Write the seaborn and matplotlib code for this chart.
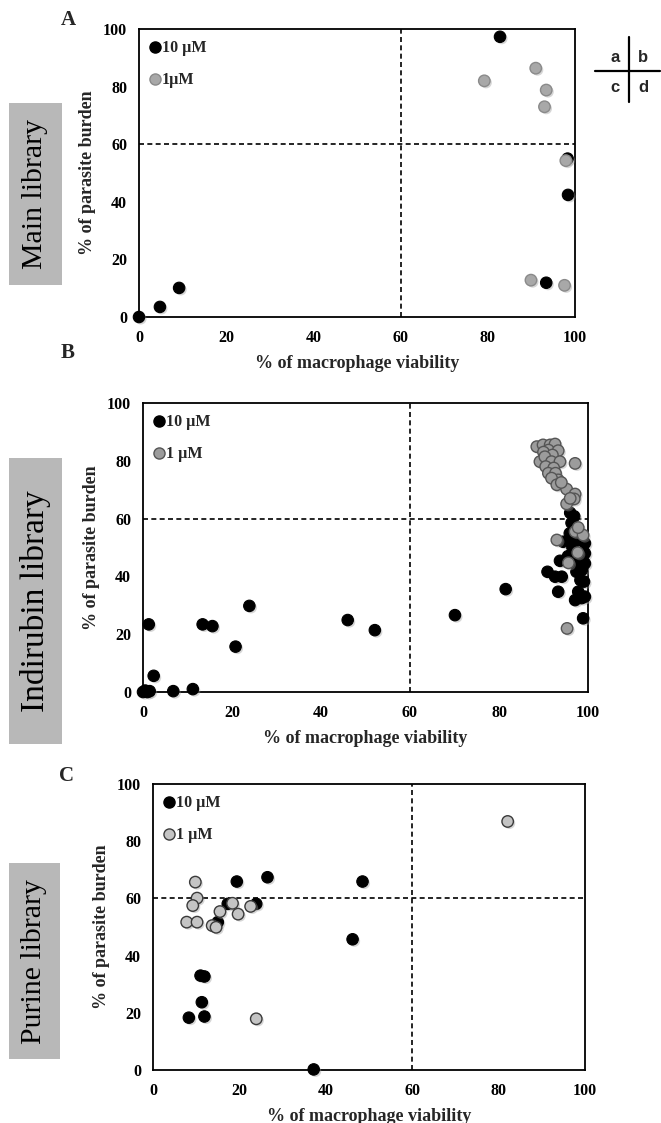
import matplotlib
matplotlib.use("Agg")
import matplotlib.pyplot as plt
import seaborn as sns
import pandas as pd
from matplotlib.patches import Rectangle
from matplotlib.lines import Line2D
import matplotlib.patheffects as pe

# ---------------- data ----------------
# Panel A : Main library
a_10uM_x = [0.0, 4.8, 9.2, 82.8, 98.3, 98.4, 93.4]
a_10uM_y = [0.0, 3.5, 10.1, 97.3, 55.0, 42.4, 11.9]
a_1uM_x = [79.2, 91.0, 93.4, 93.0, 97.9, 89.9, 97.6]
a_1uM_y = [82.0, 86.4, 78.8, 73.0, 54.3, 12.8, 11.0]

# Panel B : Indirubin library
b_10uM_x = [0.0, 0.5, 1.0, 1.5, 1.3, 2.4, 6.8, 11.2, 13.4, 15.6, 20.8, 23.9,
            46.0, 52.1, 70.1, 81.5,
            96.0, 96.9, 96.3, 97.4, 95.9, 96.3, 94.4, 97.8, 99.3, 96.8, 99.3,
            93.7, 97.8, 99.3, 98.6, 90.9, 97.4, 92.6, 94.1, 98.3, 99.1, 93.3,
            97.8, 97.1, 98.6, 99.3, 98.9, 96.5, 95.5]
b_10uM_y = [0.0, 0.5, 0.0, 0.3, 23.4, 5.6, 0.3, 1.0, 23.4, 22.8, 15.7, 29.8,
            24.9, 21.4, 26.6, 35.6,
            62.0, 60.8, 58.5, 56.0, 54.9, 52.0, 52.0, 52.6, 51.5, 48.0, 48.0,
            45.4, 44.5, 44.5, 42.2, 41.6, 41.6, 39.9, 39.9, 38.7, 38.2, 34.7,
            34.7, 31.8, 32.5, 33.0, 25.5, 50.0, 47.0]
b_1uM_x = [88.5, 89.9, 91.5, 92.6, 91.1, 93.3, 90.0, 92.0, 89.2, 90.3, 91.8,
           93.7, 97.1, 90.5, 92.3, 91.1, 92.7, 93.3, 91.8, 93.0, 95.2, 97.1,
           96.9, 95.2, 96.0, 94.0,
           93.0, 97.1, 98.9, 97.7, 95.6, 97.8, 95.3]
b_1uM_y = [84.9, 85.5, 85.5, 85.8, 83.7, 83.5, 83.0, 82.0, 79.7, 81.4, 79.7,
           79.7, 79.1, 78.0, 77.5, 75.7, 75.7, 73.4, 74.0, 71.7, 70.2, 68.5,
           66.8, 65.1, 67.0, 72.5,
           52.6, 55.5, 54.3, 48.2, 44.7, 56.9, 22.0]

# Panel C : Purine library
c_10uM_x = [8.3, 11.9, 11.3, 11.0, 11.9, 19.4, 26.5, 48.5, 46.2, 37.2, 17.3, 23.9, 15.0]
c_10uM_y = [18.3, 18.7, 23.7, 33.0, 32.7, 65.9, 67.4, 65.9, 45.7, 0.2, 58.1, 58.1, 51.7]
c_1uM_x = [9.8, 10.2, 9.2, 7.8, 10.2, 13.7, 14.6, 15.5, 18.4, 19.7, 22.6, 23.9, 82.1]
c_1uM_y = [65.7, 60.1, 57.5, 51.7, 51.7, 50.5, 49.9, 55.4, 58.3, 54.5, 57.2, 17.9, 86.9]

ticks = [0, 20, 40, 60, 80, 100]
threshold = 60
panel_letters = ["A", "B", "C"]
library_names = ["Main library", "Indirubin library", "Purine library"]
legend_labels = [["10 µM", "1µM"], ["10 µM", "1 µM"], ["10 µM", "1 µM"]]
xlabel = "% of macrophage viability"
ylabel = "% of parasite burden"

# ---------------- style ----------------
sns.set_theme(style="white")
plt.rcParams["font.family"] = ["Liberation Serif", "DejaVu Serif"]
plt.rcParams["font.weight"] = "bold"
plt.rcParams["axes.labelweight"] = "bold"

W, H = 661, 1123
fig = plt.figure(figsize=(W / 100, H / 100), dpi=100)


def ax_at(l, t, r, b):
    return fig.add_axes([l / W, 1 - b / H, (r - l) / W, (b - t) / H])


panels = [
    dict(box=(139, 29, 575, 317), lab=(9, 103, 62, 285), letter=(68, 20),
         d10=(a_10uM_x, a_10uM_y), d1=(a_1uM_x, a_1uM_y), lab_size=21.5,
         gray_face="#a8a8a8", gray_edge="#8a8a8a"),
    dict(box=(143, 403, 588, 692), lab=(9, 458, 62, 744), letter=(68, 353),
         d10=(b_10uM_x, b_10uM_y), d1=(b_1uM_x, b_1uM_y), lab_size=24,
         gray_face="#9c9c9c", gray_edge="#555555"),
    dict(box=(153, 784, 585, 1070), lab=(9, 863, 60, 1059), letter=(67, 776),
         d10=(c_10uM_x, c_10uM_y), d1=(c_1uM_x, c_1uM_y), lab_size=21.5,
         gray_face="#c4c4c4", gray_edge="#3a3a3a"),
]

shadow = [pe.SimplePatchShadow(offset=(1.3, -1.3), shadow_rgbFace="#999999", alpha=0.4), pe.Normal()]

for i, p in enumerate(panels):
    ax = ax_at(*p["box"])
    df10 = pd.DataFrame({"x": p["d10"][0], "y": p["d10"][1]})
    df1 = pd.DataFrame({"x": p["d1"][0], "y": p["d1"][1]})
    sns.scatterplot(data=df10, x="x", y="y", ax=ax, color="black",
                    edgecolor="black", s=68, linewidth=0.8, zorder=3,
                    clip_on=False, legend=False)
    sns.scatterplot(data=df1, x="x", y="y", ax=ax, color=p["gray_face"],
                    edgecolor=p["gray_edge"], s=68, linewidth=1.0, zorder=4,
                    clip_on=False, legend=False)
    for coll in ax.collections:
        coll.set_path_effects(shadow)

    ax.axvline(threshold, color="black", lw=1.2, ls=(0, (3, 2)), zorder=2)
    ax.axhline(threshold, color="black", lw=1.2, ls=(0, (3, 2)), zorder=2)

    ax.set_xlim(0, 100)
    ax.set_ylim(0, 100)
    ax.set_xticks(ticks)
    ax.set_yticks(ticks)
    ax.grid(False)
    for sp in ax.spines.values():
        sp.set_visible(True)
        sp.set_color("black")
        sp.set_linewidth(1.3)
    ax.tick_params(axis="both", direction="out", length=3.5, width=1.2,
                   colors="black", labelsize=11.5)
    ax.tick_params(axis="y", pad=5)
    ax.tick_params(axis="x", pad=6)
    ax.set_xlabel(xlabel, fontsize=13, fontweight="bold", labelpad=6)
    ax.set_ylabel(ylabel, fontsize=13, fontweight="bold", labelpad=5)

    handles = [
        Line2D([], [], marker="o", ls="", markerfacecolor="black",
               markeredgecolor="black", markersize=8),
        Line2D([], [], marker="o", ls="", markerfacecolor=p["gray_face"],
               markeredgecolor=p["gray_edge"], markersize=8),
    ]
    ax.legend(handles, legend_labels[i], loc="upper left", frameon=False,
              handlelength=0.6, handletextpad=0.15, labelspacing=1.0,
              borderaxespad=0.3, borderpad=0.4,
              prop={"weight": "bold", "size": 11.5})

    # library label box
    l, t, r, b = p["lab"]
    fig.add_artist(Rectangle((l / W, 1 - b / H), (r - l) / W, (b - t) / H,
                             transform=fig.transFigure, facecolor="#b8b8b8",
                             edgecolor="none"))
    fig.text((l + r) / 2 / W, 1 - (t + b) / 2 / H, library_names[i],
             rotation=90, ha="center", va="center", fontsize=p["lab_size"],
             fontweight="normal", color="black")
    # panel letter
    lx, ly = p["letter"]
    fig.text(lx / W, 1 - ly / H, panel_letters[i], ha="center", va="center",
             fontsize=15, fontweight="bold")

# quadrant key
fig.add_artist(Line2D([595 / W, 660 / W], [1 - 71 / H, 1 - 71 / H],
                      transform=fig.transFigure, color="black", lw=1.6))
fig.add_artist(Line2D([629 / W, 629 / W], [1 - 37 / H, 1 - 102 / H],
                      transform=fig.transFigure, color="black", lw=1.6))
for ch, (qx, qy) in zip("abcd", [(615, 58), (643, 58), (615, 87), (643, 87)]):
    fig.text(qx / W, 1 - qy / H, ch, ha="center", va="center", fontsize=12,
             fontweight="bold", family=["Liberation Sans", "DejaVu Sans"])

fig.savefig("out.png", dpi=100)
